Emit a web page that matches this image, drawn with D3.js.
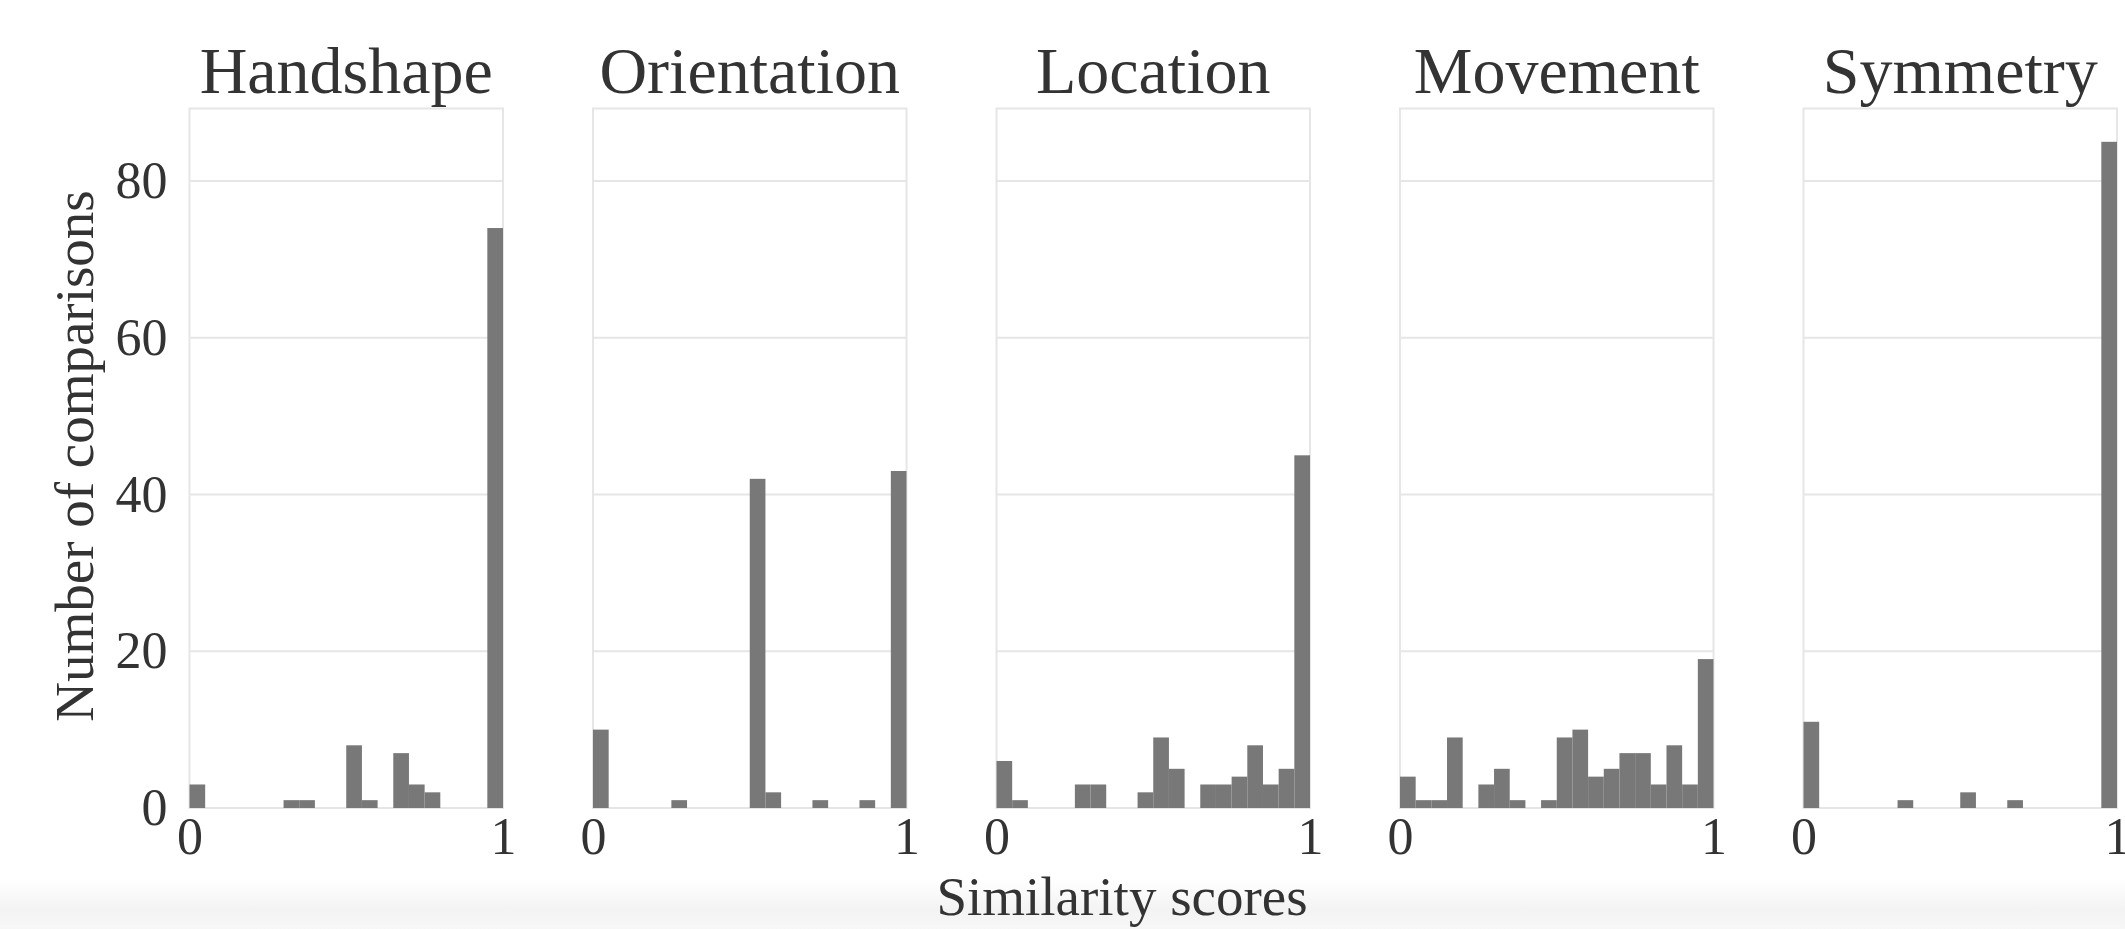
<!DOCTYPE html>
<html><head><meta charset="utf-8">
<script src="https://cdn.jsdelivr.net/npm/d3@7"></script>
<style>html,body{margin:0;padding:0;background:#fff;} svg{display:block;}</style>
</head><body><svg id="c" width="2125" height="929"></svg>
<script>
// ---- data ----
const panelTitles = ["Handshape", "Orientation", "Location", "Movement", "Symmetry"];
const binStarts = [0, 0.05, 0.1, 0.15, 0.2, 0.25, 0.3, 0.35, 0.4, 0.45, 0.5, 0.55, 0.6, 0.65, 0.7, 0.75, 0.8, 0.85, 0.9, 0.95];
const binWidth = 0.05;
const handshapeCounts   = [3, 0, 0, 0, 0, 0, 1, 1, 0, 0, 8, 1, 0, 7, 3, 2, 0, 0, 0, 74];
const orientationCounts = [10, 0, 0, 0, 0, 1, 0, 0, 0, 0, 42, 2, 0, 0, 1, 0, 0, 1, 0, 43];
const locationCounts    = [6, 1, 0, 0, 0, 3, 3, 0, 0, 2, 9, 5, 0, 3, 3, 4, 8, 3, 5, 45];
const movementCounts    = [4, 1, 1, 9, 0, 3, 5, 1, 0, 1, 9, 10, 4, 5, 7, 7, 3, 8, 3, 19];
const symmetryCounts    = [11, 0, 0, 0, 0, 0, 1, 0, 0, 0, 2, 0, 0, 1, 0, 0, 0, 0, 0, 85];
const seriesList = [handshapeCounts, orientationCounts, locationCounts, movementCounts, symmetryCounts];
const yTicks = [0, 20, 40, 60, 80];
const xTicks = [0, 1];
const yMax = 89.25;
const xLabel = "Similarity scores";
const yLabel = "Number of comparisons";

(function draw() {
  const svg = d3.select("#c");
  const FONT = "'Liberation Serif','Times New Roman',serif";
  const TXT = "#333333";
  const left0 = 189.5, panelW = 313.5, step = 403.5, plotTop = 108.5, plotBottom = 808;

  // faint scan band at bottom
  const defs = svg.append("defs");
  const g0 = defs.append("linearGradient").attr("id","band").attr("x1",0).attr("y1",0).attr("x2",0).attr("y2",1);
  g0.append("stop").attr("offset","0%").attr("stop-color","#ffffff");
  g0.append("stop").attr("offset","60%").attr("stop-color","#f3f3f3");
  g0.append("stop").attr("offset","100%").attr("stop-color","#f7f7f7");
  svg.append("rect").attr("x",0).attr("y",880).attr("width",2125).attr("height",49).attr("fill","url(#band)");

  const y = d3.scaleLinear().domain([0, yMax]).range([plotBottom, plotTop]);

  seriesList.forEach((vals, p) => {
    const L = left0 + p * step;
    const x = d3.scaleLinear().domain([0, 1]).range([L, L + panelW]);
    const g = svg.append("g");

    g.selectAll("line.grid").data(yTicks).join("line")
      .attr("x1", L).attr("x2", L + panelW)
      .attr("y1", d => y(d)).attr("y2", d => y(d))
      .attr("stroke", "#e6e6e6").attr("stroke-width", 2);
    g.append("rect").attr("x", L).attr("y", plotTop).attr("width", panelW).attr("height", plotBottom - plotTop)
      .attr("fill", "none").attr("stroke", "#e6e6e6").attr("stroke-width", 2);

    g.selectAll("rect.bar").data(vals.map((v, i) => ({v, s: binStarts[i]})).filter(d => d.v > 0)).join("rect")
      .attr("class", "bar")
      .attr("x", d => x(d.s))
      .attr("width", d => x(d.s + binWidth) - x(d.s))
      .attr("y", d => y(d.v))
      .attr("height", d => y(0) - y(d.v))
      .attr("fill", "#787878");

    const xa = g.append("g").attr("transform", `translate(0,${plotBottom})`)
      .call(d3.axisBottom(x).tickValues(xTicks).tickFormat(d3.format("d")).tickSize(0).tickPadding(9));
    xa.select(".domain").remove();
    xa.selectAll("text").attr("font-family", FONT).attr("font-size", 52).attr("fill", TXT);

    if (p === 0) {
      const ya = g.append("g").attr("transform", `translate(${L},0)`)
        .call(d3.axisLeft(y).tickValues(yTicks).tickFormat(d3.format("d")).tickSize(0).tickPadding(22));
      ya.select(".domain").remove();
      ya.selectAll("text").attr("font-family", FONT).attr("font-size", 52).attr("fill", TXT);
    }

    g.append("text").attr("x", L + panelW / 2).attr("y", 93)
      .attr("text-anchor", "middle").attr("font-family", FONT).attr("font-size", 66).attr("fill", TXT)
      .text(panelTitles[p]);
  });

  svg.append("text").attr("transform", "translate(93,456) rotate(-90)")
    .attr("text-anchor", "middle").attr("font-family", FONT).attr("font-size", 55).attr("fill", TXT)
    .text(yLabel);
  svg.append("text").attr("x", 1122).attr("y", 915)
    .attr("text-anchor", "middle").attr("font-family", FONT).attr("font-size", 55).attr("fill", TXT)
    .text(xLabel);
})();
</script></body></html>
